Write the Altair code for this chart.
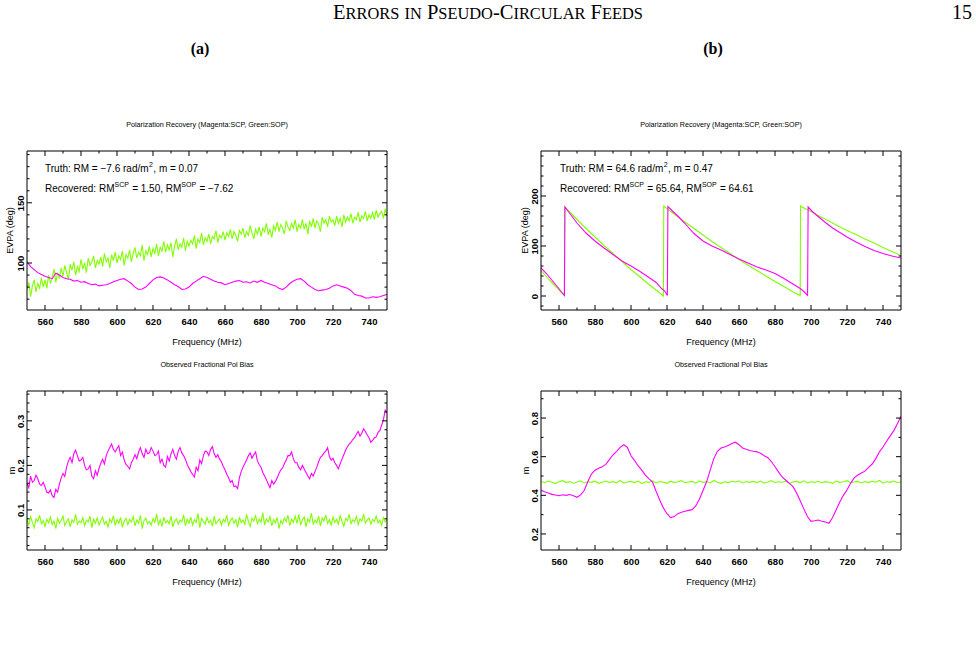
import altair as alt
import pandas as pd

# ---------------- data ----------------
freq_1mhz = list(range(550, 751))
freq_2mhz = list(range(550, 751, 2))

# (a) top: EVPA, SOP (green), 1 MHz sampling
green_evpa_a = [
    78, 84, 72, 81, 86, 76, 83, 79, 88, 80,
    86, 79, 90, 83, 88, 95, 84, 92, 87, 96,
    89, 98, 92, 86, 99, 94, 101, 90, 97, 93,
    103, 95, 100, 92, 104, 98, 101, 106, 96, 102,
    99, 105, 97, 108, 101, 104, 96, 107, 102, 109,
    100, 106, 103, 110, 98, 107, 104, 111, 101, 108,
    113, 104, 109, 106, 115, 102, 110, 107, 114, 105,
    112, 108, 116, 106, 113, 110, 118, 109, 115, 111,
    117, 105, 114, 120, 111, 116, 113, 121, 110, 118,
    114, 119, 116, 123, 112, 120, 117, 125, 115, 121,
    118, 124, 116, 122, 120, 127, 117, 123, 121, 126,
    119, 125, 122, 128, 120, 126, 123, 118, 127, 124,
    129, 121, 126, 123, 131, 125, 120, 128, 124, 130,
    122, 129, 126, 133, 124, 128, 121, 131, 127, 134,
    126, 132, 129, 124, 135, 130, 127, 133, 129, 136,
    126, 132, 129, 136, 128, 133, 124, 135, 130, 137,
    129, 135, 132, 126, 138, 133, 136, 130, 139, 134,
    136, 131, 139, 133, 137, 130, 140, 134, 138, 135,
    141, 133, 138, 136, 142, 134, 139, 137, 143, 135,
    140, 137, 142, 136, 144, 138, 141, 143, 137, 145,
    139]

# (a) top: EVPA, SCP (magenta), 2 MHz sampling
magenta_evpa_a = [
    101, 97, 94.5, 92, 90.5, 89, 88, 87, 91.5, 90,
    88, 87, 86.5, 85, 85.5, 84, 84.5, 83, 82, 82.5,
    81, 81.5, 82, 83, 84.5, 85.5, 86.5, 87, 85, 83,
    80, 78, 78.5, 80, 83, 86, 88, 88.5, 87.5, 86,
    84, 82, 80.5, 78, 78.5, 80, 83, 85, 87, 89,
    88, 86.5, 85, 84, 83.5, 82, 83, 84, 85, 85.5,
    84, 84.5, 83.5, 85, 84, 85.5, 84, 83, 82, 81,
    79, 78, 80, 83, 85, 86.5, 87, 85, 82, 80,
    78, 77, 77.5, 78, 79, 81, 82, 81, 80, 79,
    77, 74, 73, 72.5, 71, 71, 72, 71.5, 72, 73,
    74]

# (b) top: EVPA sawtooth, read at these frequencies
green_evpa_b_freq = [550, 553, 556, 559, 561, 563.0, 563.2, 566, 570, 575, 580, 585, 590,
                     595, 600, 605, 610, 615, 618.0, 618.2, 620, 625, 630, 635, 640, 645,
                     650, 655, 660, 665, 670, 675, 680, 685, 690, 694.0, 694.2, 695, 700,
                     705, 710, 715, 720, 725, 730, 735, 740, 745, 750]
green_evpa_b = [51, 39, 27, 16, 8, 1, 178, 168, 153, 135, 118, 101, 85,
                69, 53, 38, 23, 9, 0, 180, 175, 161, 148, 135, 122, 109,
                97, 85, 73, 62, 51, 40, 29, 19, 8, 1, 180, 178, 169,
                159, 150, 140, 131, 123, 114, 106, 97, 89, 81]
magenta_evpa_b_freq = [550, 553, 556, 559, 561, 563.0, 563.3, 566, 570, 575, 580, 585, 590,
                       595, 600, 605, 610, 614, 617, 619, 620.2, 620.5, 623, 626, 630, 635,
                       640, 645, 650, 655, 660, 665, 670, 675, 680, 685, 690, 694, 696,
                       698.1, 698.4, 701, 704, 708, 712, 716, 720, 725, 730, 735, 740, 745, 750]
magenta_evpa_b = [56, 45, 32, 19, 10, 1, 178, 165, 146, 126, 110, 96, 83,
                  70, 60, 49, 37, 27, 15, 9, 1, 179, 170, 160, 145, 125,
                  110, 100, 92, 83, 74, 66, 58, 52, 45, 35, 24, 15, 9,
                  1, 178, 168, 159, 147, 136, 127, 118, 108, 99, 91, 85, 80, 76]

# (a) bottom: fractional pol bias m (in thousandths), 1 MHz sampling
magenta_m_a_milli = [
    160, 150, 176, 162, 166, 178, 170, 158, 155, 162, 152, 140, 138, 145, 132, 128, 146, 140, 158, 172,
    182, 175, 196, 210, 218, 206, 226, 234, 222, 210, 212, 218, 200, 190, 192, 200, 176, 170, 188, 178,
    193, 205, 214, 203, 222, 232, 240, 248, 236, 230, 238, 244, 222, 230, 212, 202, 198, 192, 206, 214,
    224, 215, 230, 240, 226, 218, 236, 226, 228, 240, 232, 222, 224, 232, 206, 214, 200, 196, 220, 210,
    226, 236, 222, 214, 232, 240, 228, 222, 214, 202, 194, 186, 180, 174, 196, 188, 212, 204, 222, 232,
    230, 222, 236, 242, 226, 218, 224, 214, 208, 198, 190, 180, 172, 162, 166, 152, 154, 148, 172, 186,
    196, 204, 212, 222, 228, 216, 224, 230, 210, 202, 196, 184, 176, 168, 158, 150, 166, 158, 164, 172,
    182, 190, 194, 204, 212, 222, 222, 230, 214, 206, 206, 196, 190, 200, 192, 184, 176, 170, 182, 176,
    186, 196, 208, 218, 222, 228, 232, 240, 220, 212, 216, 206, 200, 192, 204, 214, 224, 234, 242, 248,
    252, 258, 262, 270, 276, 266, 272, 282, 276, 268, 262, 252, 256, 262, 264, 274, 278, 290, 302, 324,
    318]
green_m_a_milli = [
    78, 66, 85, 72, 60, 80, 74, 88, 69, 76,
    63, 79, 71, 84, 67, 75, 58, 81, 70, 77,
    86, 65, 74, 80, 62, 78, 72, 90, 68, 75,
    71, 83, 64, 77, 73, 86, 60, 79, 70, 82,
    66, 76, 84, 68, 74, 62, 80, 72, 87, 65,
    78, 70, 83, 61, 75, 81, 67, 79, 73, 85,
    64, 77, 70, 88, 58, 76, 82, 69, 74, 66,
    80, 72, 91, 67, 78, 63, 84, 71, 76, 69,
    86, 62, 75, 80, 68, 77, 73, 89, 64, 79,
    70, 84, 66, 78, 72, 92, 60, 81, 74, 68,
    83, 71, 77, 63, 86, 69, 75, 80, 66, 79,
    73, 88, 65, 76, 82, 70, 78, 61, 84, 72,
    77, 68, 90, 74, 63, 81, 75, 87, 69, 79,
    72, 94, 66, 80, 73, 85, 64, 78, 71, 83,
    58, 76, 69, 82, 74, 88, 65, 79, 72, 86,
    70, 90, 67, 78, 84, 62, 80, 73, 93, 68,
    77, 71, 86, 64, 82, 75, 89, 70, 78, 66,
    84, 72, 79, 68, 87, 74, 63, 81, 76, 90,
    69, 78, 73, 85, 67, 80, 75, 91, 70, 77,
    82, 68, 79, 74, 86, 71, 77, 65, 83, 73,
    78]

# (b) bottom: fractional pol bias m (in thousandths), 2 MHz sampling
magenta_m_b_milli = [
    426, 418, 412, 405, 402, 398, 403, 400, 404, 398,
    390, 402, 425, 470, 510, 530, 540, 548, 560, 585,
    610, 628, 648, 662, 648, 605, 580, 552, 530, 505,
    485, 468, 420, 375, 335, 305, 285, 290, 305, 312,
    318, 322, 326, 345, 380, 425, 470, 530, 590, 628,
    645, 650, 658, 668, 675, 662, 645, 638, 632, 628,
    625, 618, 605, 595, 575, 548, 520, 495, 478, 462,
    445, 412, 372, 330, 290, 265, 268, 272, 266, 262,
    255, 285, 325, 365, 400, 428, 462, 490, 505, 515,
    525, 545, 562, 590, 625, 650, 680, 708, 735, 770,
    810]
green_m_b_milli = [
    472, 465, 474, 468, 461, 470, 476, 466, 471, 463,
    469, 475, 464, 470, 467, 473, 462, 468, 474, 466,
    471, 465, 477, 463, 469, 472, 466, 474, 461, 470,
    467, 475, 464, 471, 468, 462, 473, 466, 470, 476,
    465, 469, 472, 463, 474, 467, 471, 464, 477, 468,
    462, 470, 466, 473, 469, 475, 464, 471, 467, 472,
    466, 474, 463, 469, 476, 465, 470, 468, 473, 461,
    469, 472, 466, 475, 464, 470, 467, 473, 465, 471,
    468, 462, 474, 467, 470, 476, 465, 469, 472, 464,
    471, 466, 473, 468, 477, 463, 470, 467, 474, 465,
    470]

# tick values
x_major = [560, 580, 600, 620, 640, 660, 680, 700, 720, 740]
x_minor = [570, 590, 610, 630, 650, 670, 690, 710, 730]
ya_top_major = [100, 150]
ya_top_minor = [70, 80, 90, 110, 120, 130, 140, 160, 170, 180, 190]
yb_top_major = [0, 100, 200]
yb_top_minor = [-20, 20, 40, 60, 80, 120, 140, 160, 180, 220, 240, 260, 280]
ya_bot_major = [0.1, 0.2, 0.3]
ya_bot_minor = [0.02, 0.04, 0.06, 0.08, 0.12, 0.14, 0.16, 0.18, 0.22, 0.24, 0.26,
                0.28, 0.32, 0.34, 0.36]
yb_bot_major = [0.2, 0.4, 0.6, 0.8]
yb_bot_minor = [0.3, 0.5, 0.7, 0.9]

# ---------------- tables ----------------
def tbl(f, v):
    return pd.DataFrame({"f": f, "v": v})

ga_top = tbl(freq_1mhz, green_evpa_a)
ma_top = tbl(freq_2mhz, magenta_evpa_a)
gb_top = tbl(green_evpa_b_freq, green_evpa_b)
mb_top = tbl(magenta_evpa_b_freq, magenta_evpa_b)
ga_bot = tbl(freq_1mhz, [x / 1000 for x in green_m_a_milli])
ma_bot = tbl(freq_1mhz, [x / 1000 for x in magenta_m_a_milli])
gb_bot = tbl(freq_2mhz, [x / 1000 for x in green_m_b_milli])
mb_bot = tbl(freq_2mhz, [x / 1000 for x in magenta_m_b_milli])

# ---------------- styling ----------------
W, H = 360, 159
SANS = "Liberation Sans"
SERIF = "Liberation Serif"
MAG = "#ff00ff"
GRN = "#80ff00"
one = pd.DataFrame({"k": [0]})

# Liberation Sans (Arial metrics) advance widths, for laying out text pieces
AW = {' ': 278, ',': 278, '.': 278, '/': 278, ':': 278, '=': 584, '\u2212': 584,
      '0': 556, '1': 556, '2': 556, '3': 556, '4': 556, '5': 556, '6': 556, '7': 556,
      '8': 556, '9': 556, 'C': 722, 'M': 833, 'O': 778, 'P': 667, 'R': 722, 'S': 667,
      'T': 611, 'a': 556, 'c': 500, 'd': 556, 'e': 556, 'h': 556, 'm': 833, 'o': 556,
      'r': 333, 't': 278, 'u': 556, 'v': 500}


def sans_width(s, size):
    return sum(AW.get(c, 556) for c in s) / 1000 * size


def T(s, x, y, size, font=SANS, align="left", baseline="alphabetic", angle=0, weight="normal"):
    kw = dict(text=s, fontSize=size, font=font, align=align, baseline=baseline,
              fontWeight=weight, color="black")
    if angle:
        kw["angle"] = angle
    return alt.Chart(one).mark_text(**kw).encode(x=alt.value(x), y=alt.value(y))


AS, SUP, RAISE = 10, 7, 5


def ann_line(pieces, x0, y):
    out, x = [], x0
    for s, sup in pieces:
        size = SUP if sup else AS
        body = s.lstrip(" ")
        x += sans_width(s[:len(s) - len(body)], size)
        out.append(T(body, x, y - RAISE if sup else y, size))
        x += sans_width(body, size) + (0.5 if sup else 0)
    return out


def panel(series, ydom, ymaj, ymin, yfmt, title, ytitle, ytx, extras):
    X = alt.X("f:Q", scale=alt.Scale(domain=[550, 750], nice=False, zero=False),
              axis=alt.Axis(values=x_major, format="d", title=None, labelPadding=6,
                            labelBaseline="top", labelAlign="center"))
    Y = alt.Y("v:Q", scale=alt.Scale(domain=ydom, nice=False, zero=False),
              axis=alt.Axis(values=ymaj, format=yfmt, title=None, labelAngle=270,
                            labelAlign="center", labelBaseline="alphabetic", labelPadding=4))
    layers = []
    for df, col in series:
        layers.append(alt.Chart(df).mark_line(color=col, strokeWidth=1.1, clip=True)
                      .encode(x=X, y=Y))
    for vals, L in ((x_major, 5), (x_minor, 2.5)):
        d = pd.DataFrame({"f": vals})
        layers.append(alt.Chart(d).mark_rule(color="black", strokeWidth=1)
                      .encode(x=X, y=alt.value(H), y2=alt.value(H - L)))
        layers.append(alt.Chart(d).mark_rule(color="black", strokeWidth=1)
                      .encode(x=X, y=alt.value(0), y2=alt.value(L)))
    for vals, L in ((ymaj, 5), (ymin, 2.5)):
        d = pd.DataFrame({"v": vals})
        layers.append(alt.Chart(d).mark_rule(color="black", strokeWidth=1, clip=True)
                      .encode(y=Y, x=alt.value(0), x2=alt.value(L)))
        layers.append(alt.Chart(d).mark_rule(color="black", strokeWidth=1, clip=True)
                      .encode(y=Y, x=alt.value(W), x2=alt.value(W - L)))
    layers.append(alt.Chart(one).mark_rect(fillOpacity=0, stroke="black", strokeWidth=1)
                  .encode(x=alt.value(0), x2=alt.value(W), y=alt.value(0), y2=alt.value(H)))
    layers.append(T(title, W / 2, -26, 7.2, align="center", baseline="middle"))
    layers.append(T("Frequency (MHz)", W / 2, H + 32, 9, align="center", baseline="middle"))
    layers.append(T(ytitle, ytx, H / 2, 9, align="center", baseline="middle", angle=270))
    layers.extend(extras)
    return alt.layer(*layers).properties(width=W, height=H)


# page header (small caps emulated), positioned relative to top-left plot origin (27,151)
tw = {'E': 611, 'R': 667, 'O': 722, 'S': 556, 'I': 333, 'N': 722, 'P': 556, 'U': 722,
      'D': 722, 'C': 667, 'L': 611, 'A': 722, 'F': 556, '-': 333, ' ': 250}
B, S = 20.5, 16.4
pieces = [("E", B), ("RRORS", S), (" ", B), ("IN", S), (" ", B), ("P", B), ("SEUDO", S),
          ("-", B), ("C", B), ("IRCULAR", S), (" ", B), ("F", B), ("EEDS", S)]
total = sum(sum(tw[c] for c in s) / 1000 * sz for s, sz in pieces)
x0 = 488 - total / 2 - 27
header = []
for s, sz in pieces:
    if s.strip():
        header.append(T(s, x0, 19 - 151, sz, font=SERIF))
    x0 += sum(tw[c] for c in s) / 1000 * sz
header.append(T("15", 962 - 27, 19 - 151, 20, font=SERIF, align="center"))
header.append(T("(a)", 200 - 27, 54 - 151, 16, font=SERIF, align="center", weight="bold"))
header.append(T("(b)", 713 - 27, 54 - 151, 16, font=SERIF, align="center", weight="bold"))
anchor = alt.Chart(one).mark_rule(strokeOpacity=0).encode(
    x=alt.value(-27), x2=alt.value(-27), y=alt.value(-151), y2=alt.value(-150))
header.append(anchor)

ann_a = (ann_line([("Truth: RM = \u22127.6 rad/m", False), ("2", True), (", m = 0.07", False)], 18, 21)
         + ann_line([("Recovered: RM", False), ("SCP", True), (" = 1.50, RM", False),
                     ("SOP", True), (" = \u22127.62", False)], 18, 41))
ann_b = (ann_line([("Truth: RM = 64.6 rad/m", False), ("2", True), (", m = 0.47", False)], 19, 21)
         + ann_line([("Recovered: RM", False), ("SCP", True), (" = 65.64, RM", False),
                     ("SOP", True), (" = 64.61", False)], 19, 41))

TITLE1 = "Polarization Recovery (Magenta:SCP, Green:SOP)"
TITLE2 = "Observed Fractional Pol Bias"

A1 = panel([(ga_top, GRN), (ma_top, MAG)], [61, 193], ya_top_major, ya_top_minor, "d",
           TITLE1, "EVPA (deg)", -17, ann_a + header)
B1 = panel([(gb_top, GRN), (mb_top, MAG)], [-28, 290], yb_top_major, yb_top_minor, "d",
           TITLE1, "EVPA (deg)", -16, ann_b)
A2 = panel([(ga_bot, GRN), (ma_bot, MAG)], [0.01, 0.367], ya_bot_major, ya_bot_minor, ".1f",
           TITLE2, "m", -15, [])
B2 = panel([(gb_bot, GRN), (mb_bot, MAG)], [0.117, 0.94], yb_bot_major, yb_bot_minor, ".1f",
           TITLE2, "m", -15, [])

chart = alt.ConcatChart(
    concat=[A1, B1, A2, B2], columns=2,
    spacing={"row": 81, "column": 154}, bounds="flush", padding=0,
).configure_view(stroke=None).configure_axis(
    domain=False, ticks=False, tickSize=0, grid=False, labelFont=SANS, labelFontSize=9.5,
    labelColor="black", labelFontWeight="bold", labelOverlap=False,
).properties(background="white")

chart.save("out.html", embed_options={"renderer": "svg", "actions": False})
